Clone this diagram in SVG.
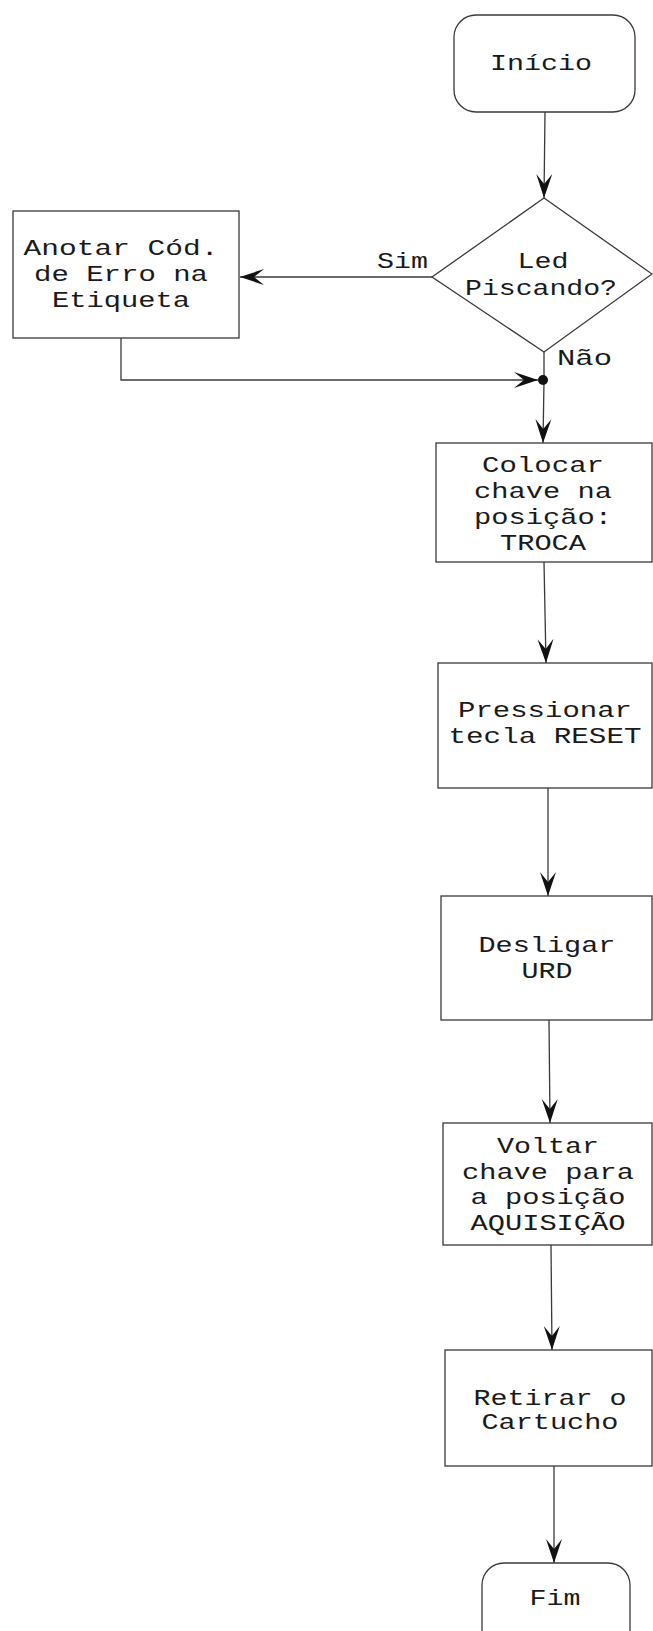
<svg xmlns="http://www.w3.org/2000/svg" width="653" height="1631" viewBox="0 0 653 1631">
<style>
.shape{fill:#ffffff;stroke:#3a3a3a;stroke-width:1.3}
.edge{fill:none;stroke:#3a3a3a;stroke-width:1.3}
.t{font-family:"Liberation Mono","Courier New",monospace;font-size:22px;fill:#1a1a1a;text-anchor:middle}
.l{font-family:"Liberation Mono","Courier New",monospace;font-size:22px;fill:#1a1a1a}
</style>
<defs>
<marker id="arr" markerUnits="userSpaceOnUse" viewBox="-26 -10 27 20" refX="0" refY="0" markerWidth="27" markerHeight="20" orient="auto">
<path d="M0,0 L-24,-8 L-14,0 L-24,8 Z" fill="#111"/>
</marker>
</defs>
<rect width="653" height="1631" fill="#ffffff"/>

<g id="connectors">
<path class="edge" d="M545,112 L544,198" marker-end="url(#arr)"/>
<path class="edge" d="M432,277 L240,277" marker-end="url(#arr)"/>
<path class="edge" d="M121,338 L121,380 L538,380" marker-end="url(#arr)"/>
<path class="edge" d="M544,352 L544,380"/>
<path class="edge" d="M544,380 L543,443" marker-end="url(#arr)"/>
<path class="edge" d="M544,562 L546,663" marker-end="url(#arr)"/>
<path class="edge" d="M548,788 L548,896" marker-end="url(#arr)"/>
<path class="edge" d="M549,1020 L550,1123" marker-end="url(#arr)"/>
<path class="edge" d="M551,1245 L552,1350" marker-end="url(#arr)"/>
<path class="edge" d="M554,1466 L554,1563" marker-end="url(#arr)"/>
<circle cx="543" cy="380" r="5" fill="#111"/>
<text class="l" x="377" y="268" textLength="51" lengthAdjust="spacingAndGlyphs">Sim</text>
<text class="l" x="557" y="365" textLength="55" lengthAdjust="spacingAndGlyphs">Não</text>
</g>

<g id="inicio">
<rect class="shape" x="454" y="15" width="181" height="97" rx="22" ry="22"/>
<text class="t" x="541" y="70" textLength="102" lengthAdjust="spacingAndGlyphs">Início</text>
</g>

<g id="decisao">
<path class="shape" d="M544,198 L652,274 L544,352 L432,277 Z"/>
<text class="t" x="543" y="268" textLength="51" lengthAdjust="spacingAndGlyphs">Led</text>
<text class="t" x="541" y="295" textLength="152" lengthAdjust="spacingAndGlyphs">Piscando?</text>
</g>

<g id="anotar">
<rect class="shape" x="13" y="211" width="226" height="127"/>
<text class="t" x="121" y="255" textLength="195" lengthAdjust="spacingAndGlyphs">Anotar Cód.</text>
<text class="t" x="121" y="281" textLength="174" lengthAdjust="spacingAndGlyphs">de Erro na</text>
<text class="t" x="121" y="307" textLength="138" lengthAdjust="spacingAndGlyphs">Etiqueta</text>
</g>

<g id="colocar">
<rect class="shape" x="436" y="443" width="216" height="119"/>
<text class="t" x="543" y="472" textLength="122" lengthAdjust="spacingAndGlyphs">Colocar</text>
<text class="t" x="543" y="498" textLength="138" lengthAdjust="spacingAndGlyphs">chave na</text>
<text class="t" x="543" y="524" textLength="138" lengthAdjust="spacingAndGlyphs">posição:</text>
<text class="t" x="543" y="550" textLength="86" lengthAdjust="spacingAndGlyphs">TROCA</text>
</g>

<g id="pressionar">
<rect class="shape" x="438" y="663" width="214" height="125"/>
<text class="t" x="545" y="717" textLength="174" lengthAdjust="spacingAndGlyphs">Pressionar</text>
<text class="t" x="545" y="743" textLength="193" lengthAdjust="spacingAndGlyphs">tecla RESET</text>
</g>

<g id="desligar">
<rect class="shape" x="441" y="896" width="211" height="124"/>
<text class="t" x="547" y="952" textLength="137" lengthAdjust="spacingAndGlyphs">Desligar</text>
<text class="t" x="547" y="978" textLength="51" lengthAdjust="spacingAndGlyphs">URD</text>
</g>

<g id="voltar">
<rect class="shape" x="443" y="1123" width="209" height="122"/>
<text class="t" x="548" y="1153" textLength="102" lengthAdjust="spacingAndGlyphs">Voltar</text>
<text class="t" x="548" y="1179" textLength="172" lengthAdjust="spacingAndGlyphs">chave para</text>
<text class="t" x="548" y="1204" textLength="155" lengthAdjust="spacingAndGlyphs">a posição</text>
<text class="t" x="548" y="1230" textLength="155" lengthAdjust="spacingAndGlyphs">AQUISIÇÃO</text>
</g>

<g id="retirar">
<rect class="shape" x="445" y="1350" width="207" height="116"/>
<text class="t" x="550" y="1405" textLength="153" lengthAdjust="spacingAndGlyphs">Retirar o</text>
<text class="t" x="550" y="1429" textLength="137" lengthAdjust="spacingAndGlyphs">Cartucho</text>
</g>

<g id="fim">
<rect class="shape" x="482" y="1563" width="148" height="90" rx="22" ry="22"/>
<text class="t" x="555" y="1605" textLength="51" lengthAdjust="spacingAndGlyphs">Fim</text>
</g>
</svg>
